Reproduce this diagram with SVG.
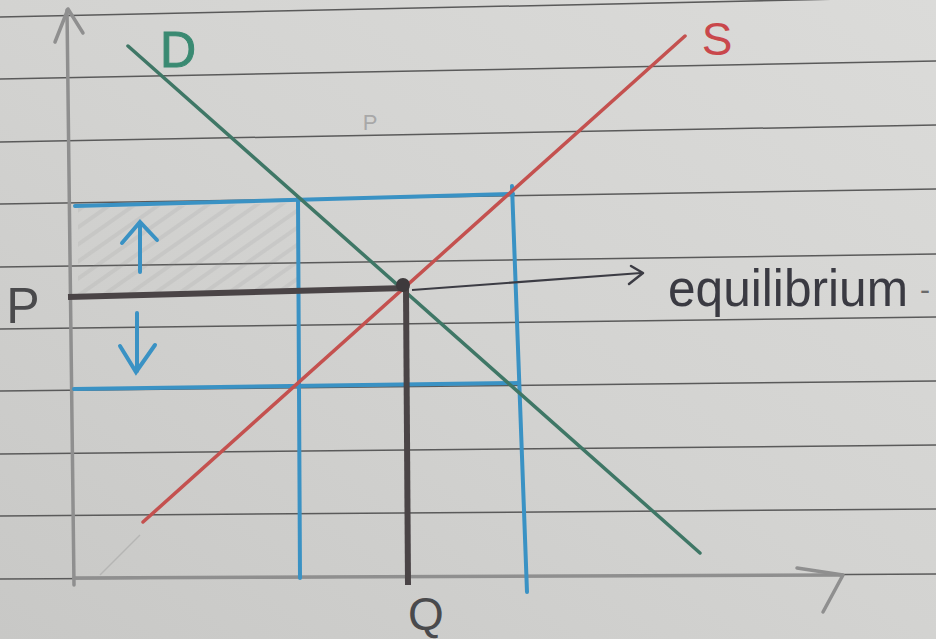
<svg xmlns="http://www.w3.org/2000/svg" width="936" height="639" viewBox="0 0 936 639">
<defs>
<linearGradient id="paper" x1="0" y1="1" x2="1" y2="0">
<stop offset="0" stop-color="#c8c8c6"/>
<stop offset="0.5" stop-color="#d3d3d1"/>
<stop offset="1" stop-color="#dbdbd9"/>
</linearGradient>
<pattern id="hatch" width="14" height="14" patternUnits="userSpaceOnUse" patternTransform="rotate(-35)">
<line x1="0" y1="7" x2="14" y2="7" stroke="#8e8e8e" stroke-width="4" stroke-opacity="0.14"/>
</pattern>
<clipPath id="shadeClip"><polygon points="78,208 300,203 300,292 78,296"/></clipPath>
</defs>
<style>
.rule{stroke:#5a5a5a;stroke-width:1.5;fill:none}
.axis{stroke:#8f8f8f;stroke-width:3.5;fill:none;stroke-linecap:round;stroke-linejoin:round}
.blue{stroke:#3a92c4;stroke-width:4;fill:none;stroke-linecap:round}
.eq{stroke:#4a4446;stroke-width:6;fill:none;stroke-linecap:butt}
.hand{font-family:"Liberation Sans","DejaVu Sans",sans-serif}
</style>
<rect width="936" height="639" fill="url(#paper)"/>
<g id="ruled-lines">
<line class="rule" x1="0" y1="17" x2="936" y2="-3"/>
<line class="rule" x1="0" y1="79" x2="936" y2="61"/>
<line class="rule" x1="0" y1="142" x2="936" y2="125"/>
<line class="rule" x1="0" y1="204" x2="936" y2="189"/>
<line class="rule" x1="0" y1="267" x2="936" y2="254"/>
<line class="rule" x1="0" y1="329" x2="936" y2="317"/>
<line class="rule" x1="0" y1="391" x2="936" y2="381"/>
<line class="rule" x1="0" y1="454" x2="936" y2="445"/>
<line class="rule" x1="0" y1="516" x2="936" y2="509"/>
<line class="rule" x1="0" y1="579" x2="936" y2="574"/>
</g>
<g id="shading">
<rect x="70" y="195" width="240" height="110" fill="url(#hatch)" clip-path="url(#shadeClip)"/>
</g>
<g id="axes">
<line class="axis" x1="67" y1="10" x2="74" y2="585"/>
<polyline class="axis" points="55,42 68,9 83,33" stroke-width="5"/>
<line class="axis" x1="74" y1="578" x2="842" y2="575"/>
<polyline class="axis" points="797,568 843,575 823,612"/>
<line x1="100" y1="575" x2="140" y2="535" stroke="#a0a0a0" stroke-width="1.5" stroke-opacity="0.5"/>
</g>
<g id="price-band">
<line class="blue" x1="75" y1="206" x2="513" y2="194"/>
<line class="blue" x1="74" y1="389" x2="519" y2="383"/>
<line class="blue" x1="298" y1="198" x2="300" y2="578"/>
<line class="blue" x1="512" y1="186" x2="527" y2="592"/>
<polyline class="blue" points="140,272 140,223" stroke-width="3.5"/>
<polyline class="blue" points="122,243 140,222 157,240" stroke-width="3.5"/>
<polyline class="blue" points="137,313 137,371" stroke-width="3.5"/>
<polyline class="blue" points="120,346 136,372 155,345" stroke-width="3.5"/>
</g>
<g id="curves">
<line id="demand" x1="128" y1="46" x2="700" y2="553" stroke="#3f7766" stroke-width="3.5" stroke-linecap="round"/>
<line id="supply" x1="143" y1="522" x2="685" y2="36" stroke="#c4514f" stroke-width="3.5" stroke-linecap="round"/>
</g>
<g id="equilibrium-lines">
<line class="eq" x1="68" y1="297" x2="406" y2="288"/>
<line class="eq" x1="406" y1="288" x2="408" y2="585"/>
<circle cx="403" cy="285" r="7" fill="#3e3a3c"/>
</g>
<g id="connectors">
<line x1="412" y1="290" x2="641" y2="273" stroke="#3c3c44" stroke-width="2"/>
<polyline points="631,266 643,273 629,284" fill="none" stroke="#3c3c44" stroke-width="2.5" stroke-linecap="round" stroke-linejoin="round"/>
</g>
<g id="label-D"><text class="hand" x="178" y="67" font-size="50" fill="#3a8a72" stroke="#3a8a72" stroke-width="1" text-anchor="middle">D</text></g>
<g id="label-S"><text class="hand" x="717" y="55" font-size="46" fill="#c9474b" text-anchor="middle">S</text></g>
<g id="label-P"><text class="hand" x="23" y="323" font-size="50" fill="#4a4a4c" text-anchor="middle">P</text></g>
<g id="label-Q"><text class="hand" x="426" y="630" font-size="46" fill="#4a4a4c" text-anchor="middle">Q</text></g>
<g id="label-p-faint"><text class="hand" x="370" y="130" font-size="22" fill="#a8a8a8" text-anchor="middle">P</text></g>
<g id="label-equilibrium"><text class="hand" x="668" y="306" font-size="52" fill="#3a3a42" textLength="240" lengthAdjust="spacingAndGlyphs">equilibrium</text><text class="hand" x="920" y="300" font-size="30" fill="#6a6a6a">-</text></g>
</svg>
